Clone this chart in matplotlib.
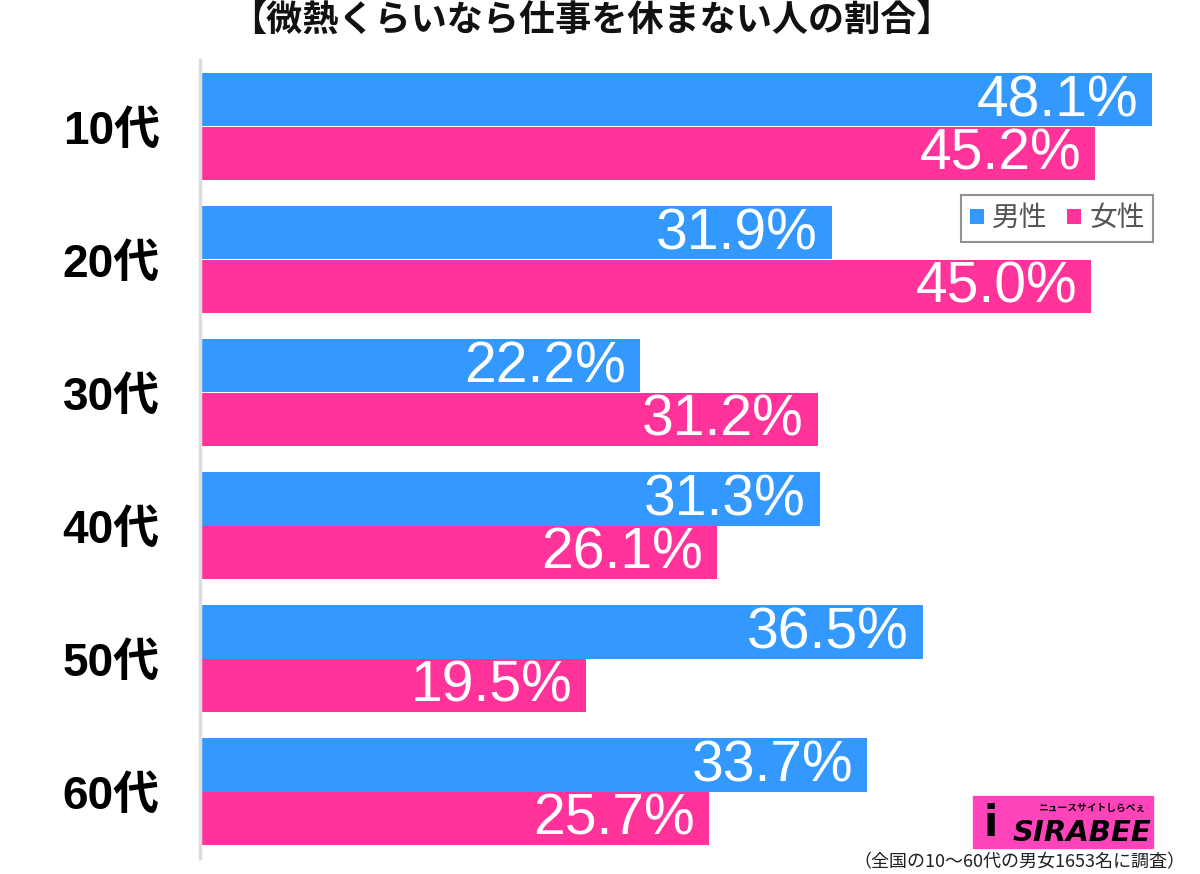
import matplotlib
matplotlib.use('Agg')
import matplotlib.pyplot as plt
from matplotlib.patches import Rectangle

plt.rcParams['font.family'] = ['Noto Sans CJK JP', 'DejaVu Sans']
num_font = ['Liberation Sans', 'Noto Sans CJK JP']

ages = ['10代', '20代', '30代', '40代', '50代', '60代']
male = [48.1, 31.9, 22.2, 31.3, 36.5, 33.7]
female = [45.2, 45.0, 31.2, 26.1, 19.5, 25.7]

blue = '#3399ff'
pink = '#ff3399'

fig = plt.figure(figsize=(12, 8.74), dpi=100)
ax = fig.add_axes([200/1200, 1 - 858/874, 990/1200, 798/874])

h = 0.4
ys = list(range(len(ages)))
ax.barh([y - h/2 for y in ys], male, height=h, color=blue, label='男性')
ax.barh([y + h/2 for y in ys], female, height=h, color=pink, label='女性')

for y, v in zip(ys, male):
    ax.annotate(f'{v:.1f}%', (v, y - h/2), xytext=(-10, -1), textcoords='offset points',
                ha='right', va='center', color='white', fontsize=41, family=num_font)
for y, v in zip(ys, female):
    ax.annotate(f'{v:.1f}%', (v, y + h/2), xytext=(-10, -1), textcoords='offset points',
                ha='right', va='center', color='white', fontsize=41, family=num_font)

ax.set_xlim(0, 50)
ax.set_ylim(len(ages) - 0.5, -0.5)
ax.set_yticks(ys)
ax.set_yticklabels(ages, fontsize=33, family=num_font, fontweight='bold')
ax.tick_params(axis='y', length=0, pad=29)
ax.set_xticks([])
for s in ['top', 'right', 'bottom']:
    ax.spines[s].set_visible(False)
ax.spines['left'].set_color('#dddddd')
ax.spines['left'].set_linewidth(2.5)

leg = ax.legend(loc='upper right', bbox_to_anchor=(1153/1200, 1 - 195/874),
                bbox_transform=fig.transFigure, fontsize=20, frameon=True,
                fancybox=False, edgecolor='#777777', handlelength=0.5, handleheight=0.5,
                handletextpad=0.3, columnspacing=0.7, ncol=2, borderpad=0.3,
                borderaxespad=0)
leg.get_frame().set_linewidth(1.5)
for t in leg.get_texts():
    t.set_color('#555555')

fig.text(591/1200, 1 - 20/874, '【微熱くらいなら仕事を休まない人の割合】', ha='center', va='center',
         fontsize=26, fontweight='bold', color='#111111')

fig.text(1185/1200, 1 - 862/874, '（全国の10～60代の男女1653名に調査）', ha='right', va='center',
         fontsize=13, color='#222222')

# logo
fig.patches.append(Rectangle((973/1200, 1 - 848/874), 180/1200, 52/874,
                             transform=fig.transFigure, color='#ff44bb', zorder=5))
fig.text(1082/1200, 1 - 833/874, 'SIRABEE', ha='center', va='center', fontsize=21,
         fontweight='heavy', style='italic', color='black', zorder=6, family='DejaVu Sans')
fig.text(1092/1200, 1 - 808/874, 'ニュースサイトしらべぇ', ha='center', va='center', fontsize=7,
         fontweight='bold', color='black', zorder=6)
fig.text(991/1200, 1 - 824/874, 'i', ha='center', va='center', fontsize=30,
         fontweight='heavy', color='black', zorder=6, family='DejaVu Sans')

fig.savefig('out.png', dpi=100)
